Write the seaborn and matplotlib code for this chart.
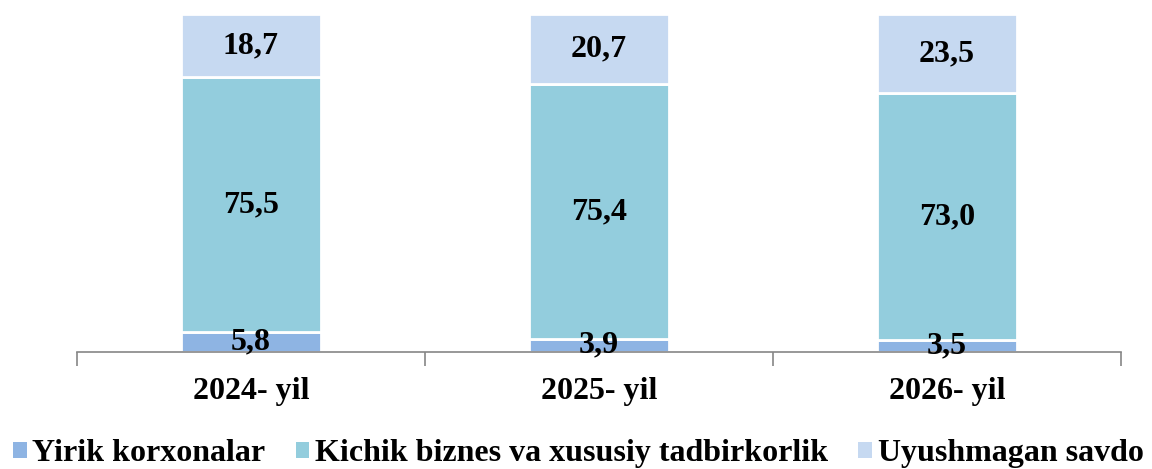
import numpy as np
import pandas as pd
import matplotlib
matplotlib.use('Agg')
import matplotlib.pyplot as plt
import seaborn as sns
from matplotlib.patches import Patch

# ------------------------------------------------------------
# Data
# ------------------------------------------------------------
years = ['2024- yil', '2025- yil', '2026- yil']
yirik = [5.8, 3.9, 3.5]
kichik = [75.5, 75.4, 73.0]
uyushmagan = [18.7, 20.7, 23.5]

series_names = ['Yirik korxonalar', 'Kichik biznes va xususiy tadbirkorlik', 'Uyushmagan savdo']
colors = ['#8EB4E3', '#93CDDD', '#C6D9F1']

sns.set_theme(style='white')
plt.rcParams['font.family'] = ['Liberation Serif', 'DejaVu Serif']
plt.rcParams['font.weight'] = 'bold'
plt.rcParams['text.color'] = 'black'
plt.rcParams['xtick.color'] = 'black'

fig = plt.figure(figsize=(11.52, 4.69), dpi=100)
ax = fig.add_axes([0.0668, 0.2495, 0.9062, 0.7205])

bottom = np.zeros(len(years))
for name, vals, col in zip(series_names, [yirik, kichik, uyushmagan], colors):
    sns.barplot(x=years, y=vals, bottom=bottom, color=col, width=0.4, saturation=1,
                edgecolor='white', linewidth=2, ax=ax, zorder=2)
    for i, v in enumerate(vals):
        ax.text(i, bottom[i] + v / 2, f'{v:.1f}'.replace('.', ','),
                ha='center', va='center', fontsize=23, fontweight='bold',
                color='black', zorder=5)
    bottom += np.array(vals)

ax.set_xlim(-0.5, 2.5)
ax.set_ylim(0, 100)
ax.set_yticks([])
ax.set_ylabel('')
for side in ['left', 'right', 'top']:
    ax.spines[side].set_visible(False)
ax.spines['bottom'].set_color('#868686')
ax.spines['bottom'].set_linewidth(1.2)

ax.set_xticks([-0.5, 0.5, 1.5, 2.5], minor=True)
ax.tick_params(axis='x', which='minor', bottom=True, length=10, width=1.2,
               color='#868686', direction='out')
ax.tick_params(axis='x', which='major', bottom=True, length=0, pad=18,
               labelsize=23, labelcolor='black')
for lbl in ax.get_xticklabels():
    lbl.set_fontweight('bold')

handles = [Patch(facecolor=c, edgecolor='none') for c in colors]
leg = fig.legend(handles, series_names, loc='lower center', bbox_to_anchor=(0.502, -0.06),
                 ncol=3, frameon=False, handlelength=0.42, handleheight=0.42,
                 handletextpad=0.18, columnspacing=0.95, prop={'weight': 'bold', 'size': 23})
for t in leg.get_texts():
    t.set_color('black')

fig.savefig('out.png', dpi=100)
plt.close(fig)
